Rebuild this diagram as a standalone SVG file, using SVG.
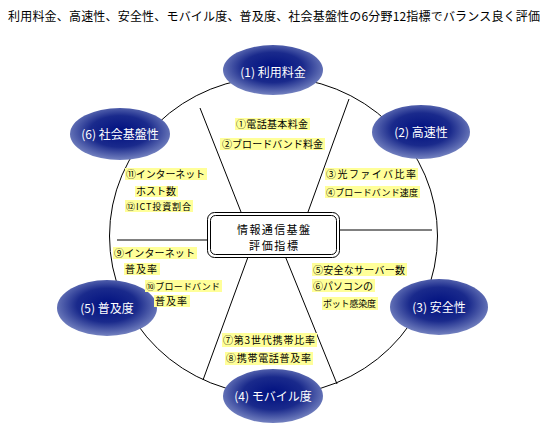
<svg xmlns="http://www.w3.org/2000/svg" width="547" height="434" viewBox="0 0 547 434">
<defs>
<radialGradient id="g" cx="50%" cy="45%" r="55%">
<stop offset="0%" stop-color="#001080"/>
<stop offset="55%" stop-color="#1a2a8c"/>
<stop offset="100%" stop-color="#7482c0"/>
</radialGradient>
</defs>
<style>
.t{font-family:"Noto Sans CJK JP","Noto Sans CJK SC",sans-serif;}
.title{font-size:12px;fill:#000;}
.node ellipse{fill:url(#g);stroke:none;}
.node text{font-size:12px;fill:#fff;text-anchor:middle;}
.lbl rect{fill:#ffff99;stroke:none;}
.lbl text{font-size:10px;fill:#000;}
.lbl text.s{font-size:9px;}
.conn{fill:none;stroke:#000;stroke-width:1;}
.box rect{fill:#fff;stroke:#000;}
.box text{font-size:11px;fill:#000;text-anchor:middle;}
</style>
<rect width="547" height="434" fill="#fff"/>
<text class="t title" x="8" y="21" textLength="532">利用料金、高速性、安全性、モバイル度、普及度、社会基盤性の6分野12指標でバランス良く評価</text>

<g id="connectors" class="conn">
<ellipse cx="273.5" cy="236" rx="164" ry="159"/>
<line x1="200" y1="108" x2="241" y2="212"/>
<line x1="349" y1="99" x2="308" y2="212"/>
<line x1="340" y1="230" x2="432" y2="230"/>
<line x1="117" y1="240" x2="207" y2="240"/>
<line x1="248" y1="257" x2="203" y2="380"/>
<line x1="285.5" y1="257" x2="337" y2="384"/>
</g>

<g id="center" class="box t">
<rect x="207.5" y="212.5" width="132" height="45" rx="7"/>
<rect x="210.5" y="215.5" width="126" height="39" rx="5"/>
<text x="273.5" y="234" textLength="73">情報通信基盤</text>
<text x="273.5" y="250" textLength="49">評価指標</text>
</g>

<g id="n1" class="node t"><ellipse cx="273" cy="70" rx="50" ry="25"/><text x="273" y="77">(1) 利用料金</text></g>
<g id="n2" class="node t"><ellipse cx="421" cy="132" rx="49" ry="27"/><text x="421" y="137">(2) 高速性</text></g>
<g id="n3" class="node t"><ellipse cx="439" cy="307" rx="49" ry="28"/><text x="439" y="312">(3) 安全性</text></g>
<g id="n4" class="node t"><ellipse cx="273" cy="396" rx="50" ry="27"/><text x="273" y="401">(4) モバイル度</text></g>
<g id="n5" class="node t"><ellipse cx="107" cy="308" rx="50" ry="28"/><text x="107" y="313">(5) 普及度</text></g>
<g id="n6" class="node t"><ellipse cx="120" cy="134" rx="50" ry="26"/><text x="120" y="139">(6) 社会基盤性</text></g>

<g id="labels" class="lbl t">
<rect x="235" y="118" width="75" height="12"/><text x="236" y="128" textLength="72">①電話基本料金</text>
<rect x="220" y="138" width="105" height="12"/><text x="222" y="148" textLength="101">②ブロードバンド料金</text>
<rect x="325" y="168" width="93" height="12"/><text x="326" y="178" textLength="90">③光ファイバ比率</text>
<rect x="325" y="186" width="95" height="12"/><text class="s" x="326" y="196" textLength="92">④ブロードバンド速度</text>
<rect x="125" y="168" width="82" height="12"/><text x="126" y="178" textLength="79">⑪インターネット</text>
<rect x="135" y="186" width="43" height="11"/><text x="136" y="195" textLength="40">ホスト数</text>
<rect x="125" y="200" width="68" height="12"/><text class="s" x="126" y="210" textLength="65">⑫ICT投資割合</text>
<rect x="113" y="247" width="84" height="12"/><text x="114" y="257" textLength="81">⑨インターネット</text>
<rect x="124" y="263" width="36" height="12"/><text x="125" y="273" textLength="32">普及率</text>
<rect x="145" y="280" width="77" height="12"/><text class="s" x="146" y="290" textLength="74">⑩ブロードバンド</text>
<rect x="154" y="295" width="36" height="12"/><text x="155" y="305" textLength="32">普及率</text>
<rect x="312" y="263" width="95" height="13"/><text x="313" y="274" textLength="92">⑤安全なサーバー数</text>
<rect x="312" y="279" width="63" height="13"/><text x="313" y="290" textLength="60">⑥パソコンの</text>
<rect x="322" y="297" width="56" height="13"/><text class="s" x="323" y="307" textLength="53">ボット感染度</text>
<rect x="222" y="333" width="95" height="14"/><text x="223" y="344" textLength="92">⑦第3世代携帯比率</text>
<rect x="225" y="352" width="88" height="13"/><text x="226" y="362" textLength="85">⑧携帯電話普及率</text>
</g>
</svg>
